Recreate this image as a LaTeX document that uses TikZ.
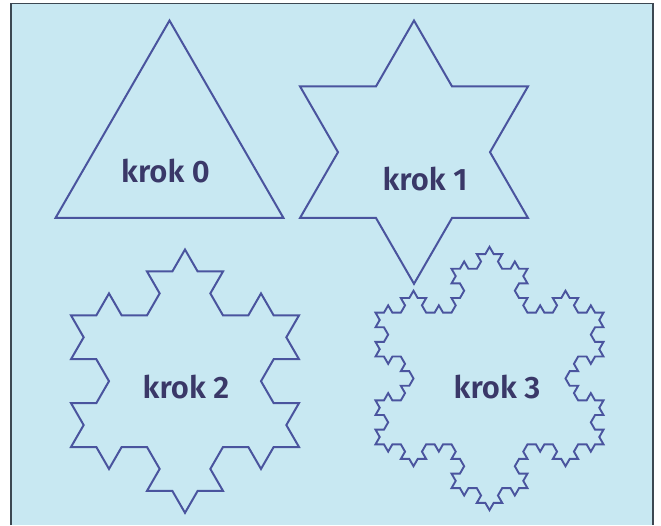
\documentclass[tikz,border=0pt]{standalone}
\usepackage{fontspec}
\setmainfont{Fira Sans}[BoldFont={Fira Sans SemiBold}]
\definecolor{bgblue}{RGB}{200,232,242}
\definecolor{kochline}{RGB}{74,84,158}
\definecolor{labelcol}{RGB}{58,56,104}
\definecolor{framecol}{RGB}{60,72,82}
\tikzset{
  kochpath/.style={draw=kochline, line width=1.6pt, line join=miter},
  label text/.style={text=labelcol, font=\fontsize{31}{36}\selectfont\bfseries, anchor=base, inner sep=0pt},
  framestyle/.style={draw=framecol, line width=1.8pt}
}
\makeatletter
\newcommand\kochseg[2]{%
  \ifnum#1=0
    \xdef\kpath{\kpath -- ++(#2:\klen)}%
  \else
    \kochsegB{\the\numexpr#1-1\relax}{#2}%
  \fi}
\newcommand\kochsegB[2]{%
  \kochseg{#1}{#2}%
  \kochseg{#1}{\the\numexpr#2-60\relax}%
  \kochseg{#1}{\the\numexpr#2+60\relax}%
  \kochseg{#1}{#2}}
\newcommand\snowflake[5]{% order, len, x, y, line width
  \gdef\kpath{}\def\klen{#2}%
  \kochseg{#1}{0}\kochseg{#1}{120}\kochseg{#1}{240}%
  \edef\tmp{\noexpand\draw[kochpath, line width=#5] (#3,#4) \kpath -- cycle;}\tmp}
\makeatother
\begin{document}
\begin{tikzpicture}[x=1pt,y=1pt]
\useasboundingbox (0,0) rectangle (661,525);
\fill[white] (0,0) rectangle (661,525);
\fill[bgblue] (11,0) rectangle (653,521.5);
\draw[framestyle] (11,0) -- (11,521.5) -- (653,521.5) -- (653,0);
% step 0
\snowflake{0}{228}{55.5}{307}{2pt}
% step 1
\snowflake{1}{76}{300}{307}{2pt}
% step 2
\snowflake{2}{25.333}{71}{78}{2pt}
% step 3
\snowflake{3}{8.444}{375.5}{80.7}{1.9pt}
\node[label text] (k0) at (165.5,342) {krok 0};
\node[label text] (k1) at (425,334.5) {krok 1};
\node[label text] (k2) at (186,126.5) {krok 2};
\node[label text] (k3) at (497,127) {krok 3};
\end{tikzpicture}
\end{document}
